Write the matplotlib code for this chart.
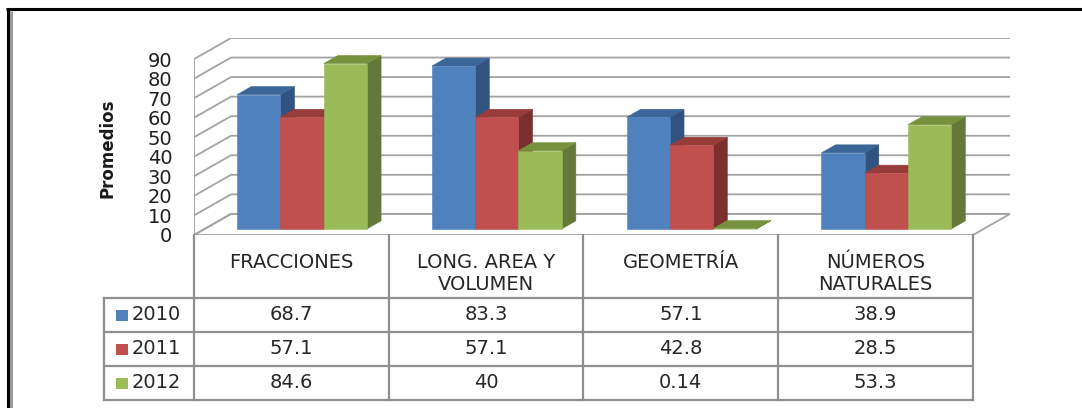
import matplotlib
matplotlib.use("Agg")
import matplotlib.pyplot as plt
import matplotlib.transforms as mtransforms
from matplotlib.patches import Polygon, Rectangle
from matplotlib.lines import Line2D

# ---- data -------------------------------------------------------------
categories = ["FRACCIONES", "LONG. AREA Y\nVOLUMEN", "GEOMETRÍA", "NÚMEROS\nNATURALES"]
series_names = ["2010", "2011", "2012"]
values_2010 = [68.7, 83.3, 57.1, 38.9]
values_2011 = [57.1, 57.1, 42.8, 28.5]
values_2012 = [84.6, 40, 0.14, 53.3]
y_ticks = [0, 10, 20, 30, 40, 50, 60, 70, 80, 90]
y_label = "Promedios"

series_values = [values_2010, values_2011, values_2012]

# ---- styling ----------------------------------------------------------
face_colors = ["#4f81bd", "#c0504d", "#9bbb59"]
top_colors = ["#3c6698", "#983c3a", "#76923c"]
side_colors = ["#30547f", "#7b302e", "#64783a"]
grid_color = "#a3a3a3"
table_color = "#8e8e8e"
text_color = "#262626"

W, H = 1082, 408
fig = plt.figure(figsize=(W / 100, H / 100), dpi=100)
fig.patch.set_facecolor("white")

# oblique depth of the 3-D box, in data units (x: categories, y: values)
DX = 0.19
DY = 10.8
Z0, Z1 = 0.29, 0.67          # front / back of the bars as a fraction of depth
bar_w = 1 / 4.5              # three bars plus a 150 % gap per category
n_cat = len(categories)

ax = fig.add_axes([194 / W, (H - 235) / H, (1010 - 194) / W, (235 - 38) / H])
ax.set_xlim(0, n_cat + DX)
ax.set_ylim(0, y_ticks[-1] + DY)
ax.patch.set_visible(False)
for s in ax.spines.values():
    s.set_visible(False)
ax.set_xticks([])
ax.set_yticks(y_ticks)
ax.tick_params(axis="y", length=0, pad=15.5, labelsize=14, labelcolor="#1f1f1f")


def proj(x, v, z):
    return (x + z * DX, v + z * DY)


# floor
floor = Polygon([proj(0, 0, 0), proj(n_cat, 0, 0), proj(n_cat, 0, 1), proj(0, 0, 1)],
                closed=True, facecolor="white", edgecolor=grid_color, lw=1.3, zorder=1)
ax.add_patch(floor)

# walls: gridlines across the side wall and the back wall
for v in y_ticks:
    xs, ys = zip(proj(0, v, 0), proj(0, v, 1), proj(n_cat, v, 1))
    ax.plot(xs, ys, color=grid_color, lw=1.3, zorder=1, solid_capstyle="butt")
ax.plot([0, 0], [0, y_ticks[-1]], color=grid_color, lw=1.3, zorder=1)

# bars, painted left to right so each front face covers its neighbour's side
z = 3
for i in range(n_cat):
    for j, vals in enumerate(series_values):
        v = vals[i]
        x0 = i + 0.5 - 1.5 * bar_w + j * bar_w
        x1 = x0 + bar_w
        side = [proj(x1, 0, Z0), proj(x1, 0, Z1), proj(x1, v, Z1), proj(x1, v, Z0)]
        top = [proj(x0, v, Z0), proj(x1, v, Z0), proj(x1, v, Z1), proj(x0, v, Z1)]
        front = [proj(x0, 0, Z0), proj(x1, 0, Z0), proj(x1, v, Z0), proj(x0, v, Z0)]
        ax.add_patch(Polygon(side, closed=True, facecolor=side_colors[j],
                             edgecolor=side_colors[j], lw=0.4, zorder=z))
        ax.add_patch(Polygon(top, closed=True, facecolor=top_colors[j],
                             edgecolor=top_colors[j], lw=0.4, zorder=z + 1))
        ax.add_patch(Polygon(front, closed=True, facecolor=face_colors[j],
                             edgecolor=face_colors[j], lw=0.4, zorder=z + 2))
        z += 3

# y axis title
fig.text(108 / W, 1 - 148 / H, y_label, rotation=90, ha="center", va="center",
         fontsize=12, fontweight="bold", color="#1a1a1a",
         family=["Liberation Sans Narrow", "DejaVu Sans"])

# ---- data table under the plot (pixel coordinates, origin top-left) ----
px = mtransforms.Affine2D().scale(1 / W, -1 / H).translate(0, 1) + fig.transFigure
fig.canvas.draw()
col_x = [ax.transData.transform((i, 0))[0] for i in range(n_cat + 1)]

head_top, head_bot = 235, 298
row_edges = [298, 332, 366, 400]
legend_left = 104
tlw = 1.6

def tline(xs, ys):
    fig.add_artist(Line2D(xs, ys, transform=px, color=table_color, lw=tlw,
                          solid_capstyle="projecting"))

for cx in col_x:
    tline([cx, cx], [head_top, row_edges[-1]])
for ry in row_edges:
    tline([legend_left, col_x[-1]], [ry, ry])
tline([legend_left, legend_left], [row_edges[0], row_edges[-1]])

# column headers
for i, cat in enumerate(categories):
    cx = (col_x[i] + col_x[i + 1]) / 2
    for k, line in enumerate(cat.split("\n")):
        fig.text(cx, 262 + 23 * k, line, transform=px, ha="center", va="center",
                 fontsize=14, color=text_color)

# rows: legend key, series name and values
for j, (name, vals) in enumerate(zip(series_names, series_values)):
    yc = (row_edges[j] + row_edges[j + 1]) / 2
    fig.add_artist(Rectangle((116, yc - 5.5), 12, 11, transform=px,
                             facecolor=face_colors[j], edgecolor="none"))
    fig.text(132, yc, name, transform=px, ha="left", va="center",
             fontsize=14, color=text_color)
    for i, v in enumerate(vals):
        cx = (col_x[i] + col_x[i + 1]) / 2
        fig.text(cx, yc, f"{v:g}", transform=px, ha="center", va="center",
                 fontsize=14, color=text_color)

# outer frame of the chart area
fig.add_artist(Line2D([6, W], [9, 9], transform=px, color="black", lw=2.2,
                      solid_capstyle="butt"))
fig.add_artist(Line2D([7.5, 7.5], [8, H], transform=px, color="black", lw=2.2,
                      solid_capstyle="butt"))
fig.add_artist(Line2D([10.5, 10.5], [10.5, H], transform=px, color="#9a9a9a",
                      lw=2.2, solid_capstyle="butt"))

fig.savefig("out.png", dpi=100, facecolor="white")
